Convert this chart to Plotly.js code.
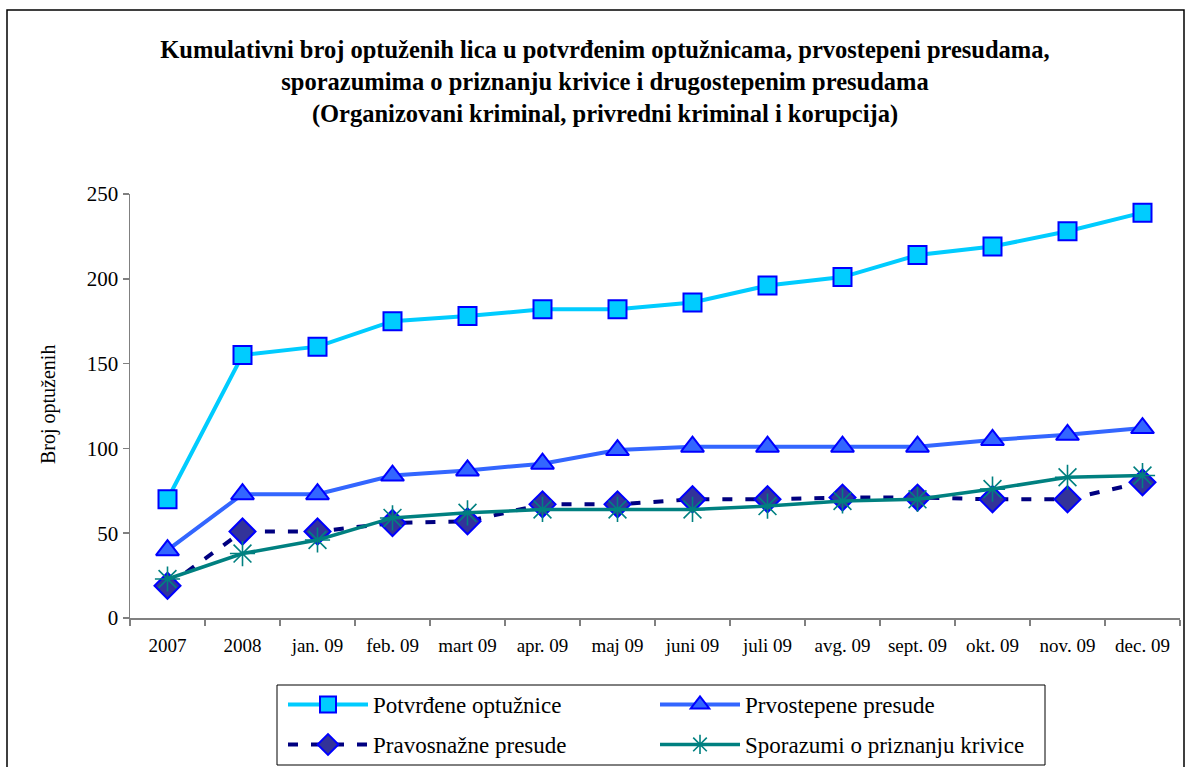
<!DOCTYPE html>
<html>
<head>
<meta charset="utf-8">
<script src="https://cdn.plot.ly/plotly-3.0.1.min.js"></script>
<style>html,body{margin:0;padding:0;background:#fff;}#chart{width:1188px;height:767px;}</style>
</head>
<body>
<div id="chart"></div>
<script>
const categories = ["2007","2008","jan. 09","feb. 09","mart 09","apr. 09","maj 09","juni 09","juli 09","avg. 09","sept. 09","okt. 09","nov. 09","dec. 09"];
const potvrdene = [70,155,160,175,178,182,182,186,196,201,214,219,228,239];
const prvostepene = [40,73,73,84,87,91,99,101,101,101,101,105,108,112];
const pravosnazne = [19,51,51,56,57,67,67,70,70,71,71,70,70,80];
const sporazumi = [23,38,46,59,62,64,64,64,66,69,70,76,83,84];
const seriesNames = ["Potvrđene optužnice","Prvostepene presude","Pravosnažne presude","Sporazumi o priznanju krivice"];
const yTicks = [0,50,100,150,200,250];
const yTitle = "Broj optuženih";

const serif = "Liberation Serif, Times New Roman, serif";

const traces = [
  {x: categories, y: potvrdene, name: seriesNames[0], type: "scatter", mode: "lines+markers",
   line: {color: "#00CCFF", width: 4},
   marker: {symbol: "square", size: 18, color: "#00CCFF", line: {color: "#0000FF", width: 2}},
   legend: "legend"},
  {x: categories, y: prvostepene, name: seriesNames[1], type: "scatter", mode: "lines+markers",
   line: {color: "#3366FF", width: 4},
   marker: {symbol: "triangle-up", size: 20, color: "#3366FF", line: {color: "#0000FF", width: 2}},
   legend: "legend"},
  {x: categories, y: pravosnazne, name: seriesNames[2], type: "scatter", mode: "lines+markers",
   line: {color: "#000080", width: 4, dash: "10px,13px"},
   marker: {symbol: "diamond", size: 20, color: "#333399", line: {color: "#0000FF", width: 2}},
   legend: "legend2"},
  {x: categories, y: sporazumi, name: seriesNames[3], type: "scatter", mode: "lines+markers",
   line: {color: "#008080", width: 3.5},
   marker: {symbol: "asterisk-open", size: 21, color: "#008080", line: {color: "#008080", width: 1.6}},
   legend: "legend2"}
];

const W = 1050, H = 424, L = 130, T = 194;
const px = v => (v - L) / W;
const py = v => (T + H - v) / H;

const legendCommon = {
  orientation: "h", xanchor: "left", yanchor: "top",
  font: {family: serif, size: 23, color: "#000"},
  bgcolor: "rgba(0,0,0,0)", borderwidth: 0,
  entrywidth: 277, entrywidthmode: "pixels", itemwidth: 80,
  traceorder: "normal"
};

const layout = {
  width: 1188, height: 767,
  margin: {l: L, r: 1188 - L - W, t: T, b: 767 - T - H, autoexpand: false},
  paper_bgcolor: "#fff", plot_bgcolor: "#fff",
  showlegend: true,
  title: {
    text: "<b>Kumulativni broj optuženih lica u potvrđenim optužnicama, prvostepeni presudama,<br>sporazumima o priznanju krivice i drugostepenim presudama<br>(Organizovani kriminal, privredni kriminal i korupcija)</b>",
    font: {family: serif, size: 24.5, color: "#000"},
    x: 605 / 1188, xanchor: "center", xref: "container",
    y: 1 - 58 / 767, yanchor: "top", yref: "container"
  },
  xaxis: {
    type: "category", range: [-0.5, categories.length - 0.5],
    showgrid: false, zeroline: false, automargin: false,
    showline: true, linecolor: "#808080", linewidth: 1.5,
    ticks: "outside", tickson: "boundaries", ticklen: 6, tickcolor: "#808080", tickwidth: 1.5,
    tickangle: 0,
    tickfont: {family: serif, size: 19, color: "#000"},
    ticklabelstandoff: 10
  },
  yaxis: {
    range: [0, 250], tickvals: yTicks, showgrid: false, zeroline: false, automargin: false,
    showline: true, linecolor: "#808080", linewidth: 1.5,
    ticks: "outside", ticklen: 6, tickcolor: "#808080", tickwidth: 1.5,
    tickfont: {family: serif, size: 21, color: "#000"}
  },
  annotations: [
    {text: yTitle, xref: "paper", yref: "paper", x: px(48), y: py(405), xanchor: "center", yanchor: "middle",
     textangle: -90, showarrow: false, font: {family: serif, size: 20, color: "#000"}}
  ],
  legend: Object.assign({}, legendCommon, {x: px(283), y: py(683)}),
  legend2: Object.assign({}, legendCommon, {x: px(283), y: py(723)}),
  shapes: [
    {type: "rect", xref: "paper", yref: "paper", x0: px(7), x1: px(1184), y0: py(10), y1: py(800),
     line: {color: "#000", width: 1.5}, fillcolor: "rgba(0,0,0,0)"},
    {type: "rect", xref: "paper", yref: "paper", x0: px(277), x1: px(1045), y0: py(685), y1: py(765),
     line: {color: "#000", width: 1}, fillcolor: "rgba(0,0,0,0)"}
  ]
};

Plotly.newPlot("chart", traces, layout, {displayModeBar: false, staticPlot: true});
</script>
</body>
</html>
